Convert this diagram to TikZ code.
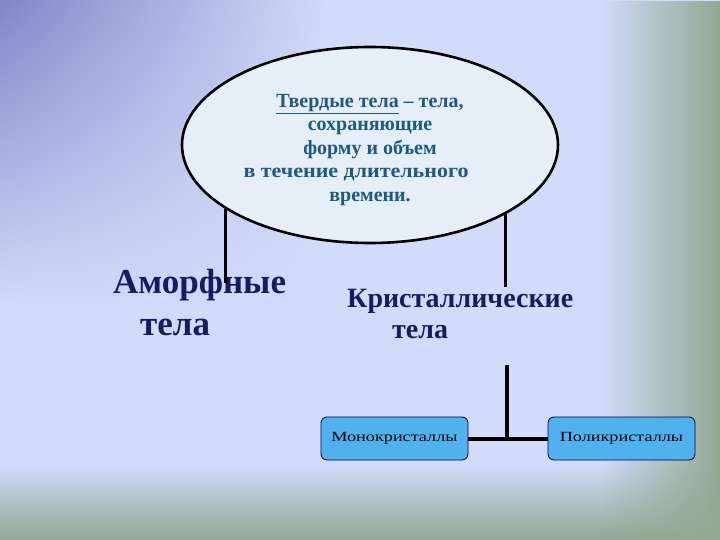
\documentclass[tikz,border=0pt]{standalone}
\usepackage{fontspec}
\setmainfont{Liberation Serif}
\usetikzlibrary{fadings,shadings,shapes.geometric}
\definecolor{bgmain}{RGB}{210,219,250}
\definecolor{tlcol}{RGB}{130,133,198}
\definecolor{grn}{RGB}{146,168,146}
\definecolor{ellfill}{RGB}{230,238,247}
\definecolor{elltext}{RGB}{28,90,130}
\definecolor{navy}{RGB}{26,26,100}
\definecolor{boxfill}{RGB}{80,178,236}
\tikzfading[name=fadeR, left color=transparent!100, right color=transparent!0]
\tikzfading[name=fadeB, top color=transparent!100, bottom color=transparent!0]
\tikzset{
  conn/.style={line width=3.2pt, black},
  bigtxt/.style={text=navy, inner sep=0pt, anchor=base west},
  crbox/.style={draw=black!70!blue, line width=0.8pt, fill=boxfill, rounded corners=6pt,
     minimum width=147pt, minimum height=43pt, inner sep=0pt, font=\fontsize{14}{16}\selectfont}
}
\begin{document}
\begin{tikzpicture}[x=1pt,y=-1pt]
\useasboundingbox (0,0) rectangle (720,540);
% background
\fill[bgmain] (0,0) rectangle (720,540);
\shade[upper left=tlcol, upper right=bgmain, lower left=bgmain, lower right=bgmain] (0,0) rectangle (330,310);
\fill[grn, path fading=fadeB] (0,465) rectangle (720,540);
\fill[grn, path fading=fadeR] (600,0) rectangle (720,540);
% ellipse
\node[ellipse, draw=black, line width=2.6pt, fill=ellfill, minimum width=376pt, minimum height=196pt,
      inner sep=0pt] (solid) at (370,145) {};
\node[inner sep=0pt, text=elltext, font=\bfseries\fontsize{20}{23.5}\selectfont, align=center]
  (soltxt) at (370,150) {\underline{Твердые тела} – тела,\\ сохраняющие\\ форму и объем\\ \hspace*{-28pt}\scalebox{1.1}[1]{в течение длительного}\\ времени.};
% labels
\node[bigtxt, font=\bfseries\fontsize{35}{40}\selectfont] (amorph) at (113,293) {Аморфные};
\node[bigtxt, font=\bfseries\fontsize{35}{40}\selectfont] (amorph2) at (140,335) {тела};
\node[bigtxt, font=\bfseries\fontsize{28}{32}\selectfont] (cryst) at (347,307) {Кристаллические};
\node[bigtxt, font=\bfseries\fontsize{28}{32}\selectfont] (cryst2) at (392,338) {тела};
% boxes
\node[crbox] (mono) at (394.5,438.5) {\scalebox{1.3}[1]{Монокристаллы}};
\node[crbox] (poly) at (621.5,438.5) {\scalebox{1.3}[1]{Поликристаллы}};
% connectors
\coordinate (aend) at (229,283);
\coordinate (cend) at (507,287);
\coordinate (ctop) at (507,365);
\draw[line width=2.6pt] (solid.204.7) -- (solid.204.7 |- aend);
\draw[conn] (solid.333.9) -- (solid.333.9 |- cend);
\draw[conn, line width=4pt] (mono.east) -- (poly.west);
\draw[conn] (ctop) -- (ctop |- mono.east);
\end{tikzpicture}
\end{document}
